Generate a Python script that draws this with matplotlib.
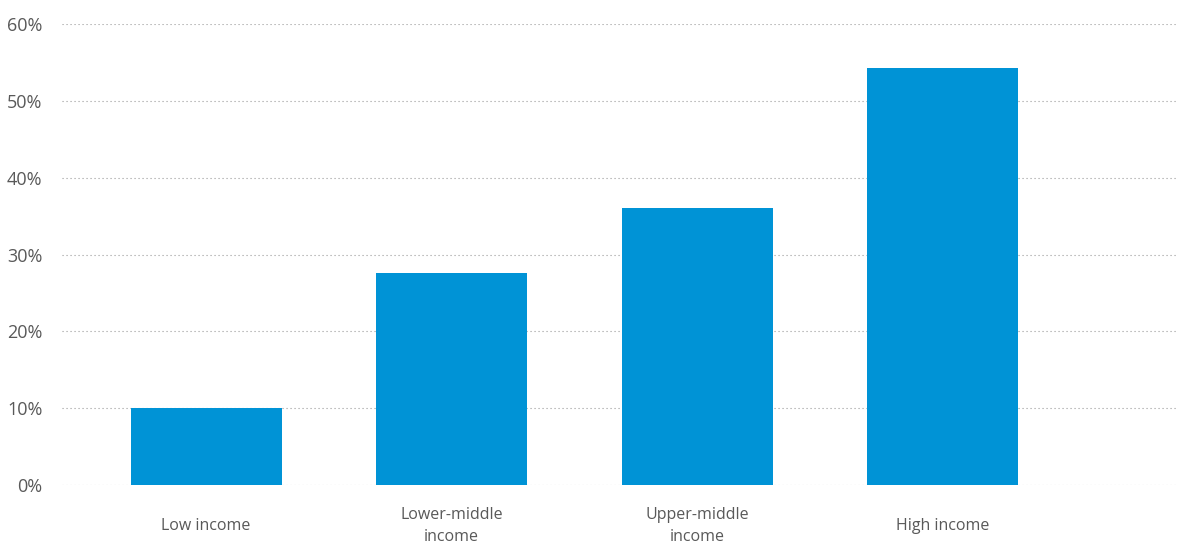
import matplotlib.pyplot as plt
from matplotlib.ticker import FuncFormatter
import matplotlib.transforms as mtransforms

plt.rcParams['font.family'] = ['Open Sans', 'DejaVu Sans']

categories = ['Low income', 'Lower-middle\nincome', 'Upper-middle\nincome', 'High income']
shares = [10.0, 27.6, 36.1, 54.3]
y_ticks = [0, 10, 20, 30, 40, 50, 60]

bar_color = '#0093d6'
text_color = '#595959'

fig = plt.figure(figsize=(11.77, 5.43), dpi=100)
ax = fig.add_axes([62 / 1177, 1 - 485 / 543, 1 - 62 / 1177, (485 - 24) / 543])

pos = list(range(len(categories)))
ax.bar(pos, shares, width=0.615, color=bar_color, zorder=3)

ax.set_xlim(-0.587, 3.955)
ax.set_ylim(0, 60)
ax.set_yticks(y_ticks)
ax.yaxis.set_major_formatter(FuncFormatter(lambda v, p: f'{v:.0f}%'))
ax.tick_params(axis='y', length=0, pad=14, labelsize=13, labelcolor=text_color)
ax.set_xticks([])

# dotted horizontal guides behind the bars
ax.grid(axis='y', color='#9a9a9a', linewidth=0.8, linestyle=(0, (1, 2.6)), zorder=0)
for s in ax.spines.values():
    s.set_visible(False)

# category names sit centred a little below the baseline
trans = mtransforms.blended_transform_factory(ax.transData, ax.transAxes)
for x, name in zip(pos, categories):
    ax.text(x, -0.089, name, transform=trans, ha='center', va='center',
            fontsize=11.5, color=text_color, linespacing=1.45)

fig.savefig('out.png', dpi=100)
